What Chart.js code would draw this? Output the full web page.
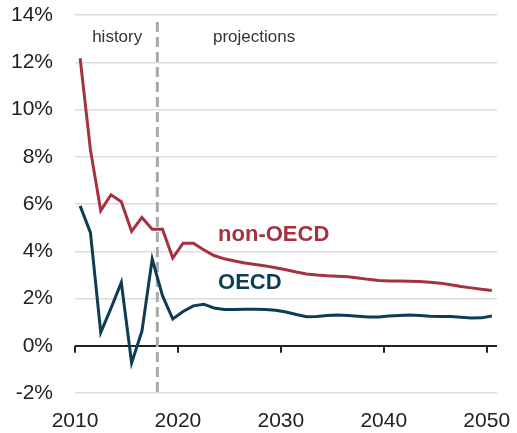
<!DOCTYPE html>
<html>
<head>
<meta charset="utf-8">
<script src="https://cdn.jsdelivr.net/npm/chart.js@4.4.1/dist/chart.umd.min.js"></script>
<style>
  html, body { margin: 0; padding: 0; background: #fff; }
  #wrap { width: 517px; height: 433px; position: relative; }
</style>
</head>
<body>
<div id="wrap"><canvas id="growthChart"></canvas></div>
<script>
// Years shown (annual values, plotted at mid-year)
var years = [];
for (var y = 2010; y <= 2050; y++) years.push(y);

// Growth rates, % per year
var nonOecdValues = [
  12.17, 8.29, 5.72, 6.39, 6.10, 4.84, 5.43, 4.93, 4.93, 3.71,
  4.34, 4.34, 4.06, 3.82, 3.68, 3.59, 3.50, 3.44, 3.38, 3.30,
  3.22, 3.12, 3.04, 2.99, 2.96, 2.94, 2.92, 2.87, 2.81, 2.76,
  2.74, 2.74, 2.73, 2.72, 2.69, 2.65, 2.58, 2.51, 2.45, 2.39,
  2.34
];
var oecdValues = [
  5.92, 4.79, 0.56, 1.59, 2.68, -0.73, 0.61, 3.67, 2.12, 1.13,
  1.45, 1.69, 1.76, 1.60, 1.53, 1.53, 1.54, 1.55, 1.53, 1.50,
  1.43, 1.32, 1.23, 1.24, 1.28, 1.30, 1.28, 1.25, 1.22, 1.22,
  1.26, 1.28, 1.30, 1.28, 1.25, 1.24, 1.24, 1.21, 1.17, 1.18,
  1.26
];

var xTickYears = [2010, 2020, 2030, 2040, 2050];
var yTickValues = [-2, 0, 2, 4, 6, 8, 10, 12, 14];
var historyEndYear = 2018; // dashed divider between history and projections

var redColor = "#a5323f";
var tealColor = "#0c3d52";

function toPoints(values) {
  return values.map(function (v, i) { return { x: years[i] + 0.5, y: v }; });
}

// Draws the divider, zero-line ticks and text labels
var decorPlugin = {
  id: "decor",
  beforeDatasetsDraw: function (chart) {
    var ctx = chart.ctx;
    var xs = chart.scales.x, ys = chart.scales.y;
    var area = chart.chartArea;
    var zeroY = ys.getPixelForValue(0);
    // tick marks hanging from the zero line
    ctx.save();
    ctx.strokeStyle = "#222";
    ctx.lineWidth = 2;
    xTickYears.forEach(function (yr) {
      var px = Math.round(xs.getPixelForValue(yr));
      ctx.beginPath();
      ctx.moveTo(px, zeroY);
      ctx.lineTo(px, zeroY + 7);
      ctx.stroke();
    });
    // dashed divider
    var dx = xs.getPixelForValue(historyEndYear);
    ctx.strokeStyle = "#a9a9a9";
    ctx.lineWidth = 3;
    ctx.setLineDash([10, 5]);
    ctx.beginPath();
    ctx.moveTo(dx, area.top + 7);
    ctx.lineTo(dx, area.bottom);
    ctx.stroke();
    ctx.restore();
  },
  afterDatasetsDraw: function (chart) {
    var ctx = chart.ctx;
    var xs = chart.scales.x, ys = chart.scales.y;
    ctx.save();
    ctx.textBaseline = "middle";
    ctx.textAlign = "center";
    ctx.fillStyle = "#333";
    ctx.font = "17px 'Liberation Sans', Arial, sans-serif";
    ctx.fillText("history", xs.getPixelForValue(2014.1), ys.getPixelForValue(13.05));
    ctx.fillText("projections", xs.getPixelForValue(2027.4), ys.getPixelForValue(13.05));
    ctx.textAlign = "left";
    ctx.font = "bold 22px 'Liberation Sans', Arial, sans-serif";
    ctx.fillStyle = redColor;
    ctx.fillText("non-OECD", xs.getPixelForValue(2023.9), ys.getPixelForValue(4.7));
    ctx.fillStyle = tealColor;
    ctx.fillText("OECD", xs.getPixelForValue(2023.9), ys.getPixelForValue(2.67));
    ctx.restore();
  }
};

var chartCtx = document.getElementById("growthChart").getContext("2d");
var growthChart = new Chart(chartCtx, {
  type: "line",
  data: {
    datasets: [
      {
        label: "non-OECD",
        data: toPoints(nonOecdValues),
        borderColor: redColor,
        borderWidth: 3,
        pointRadius: 0,
        tension: 0
      },
      {
        label: "OECD",
        data: toPoints(oecdValues),
        borderColor: tealColor,
        borderWidth: 3,
        pointRadius: 0,
        tension: 0
      }
    ]
  },
  options: {
    responsive: true,
    maintainAspectRatio: false,
    animation: false,
    layout: { padding: { top: 15, right: 20, left: 0, bottom: 0 } },
    plugins: { legend: { display: false }, tooltip: { enabled: false } },
    scales: {
      x: {
        type: "linear",
        min: 2010,
        max: 2051,
        afterBuildTicks: function (scale) {
          scale.ticks = xTickYears.map(function (v) { return { value: v }; });
        },
        afterFit: function (scale) {
          scale.height = 40;
          scale.paddingLeft = 0;
          scale.paddingRight = 0;
        },
        grid: { display: false, drawTicks: false },
        border: { display: false },
        ticks: {
          padding: 16,
          color: "#222",
          font: { family: "'Liberation Sans', Arial, sans-serif", size: 21 },
          callback: function (v) { return String(v); },
          maxRotation: 0
        }
      },
      y: {
        min: -2,
        max: 14,
        afterBuildTicks: function (scale) {
          scale.ticks = yTickValues.map(function (v) { return { value: v }; });
        },
        afterFit: function (scale) {
          scale.width = 75;
          scale.paddingTop = 0;
          scale.paddingBottom = 0;
        },
        grid: {
          drawTicks: false,
          color: function (c) { return c.tick && c.tick.value === 0 ? "#222" : "#dcdcdc"; },
          lineWidth: function (c) { return c.tick && c.tick.value === 0 ? 2 : 1.5; }
        },
        border: { display: false },
        ticks: {
          padding: 22,
          color: "#222",
          font: { family: "'Liberation Sans', Arial, sans-serif", size: 21 },
          callback: function (v) { return v + "%"; }
        }
      }
    }
  },
  plugins: [decorPlugin]
});
</script>
</body>
</html>
